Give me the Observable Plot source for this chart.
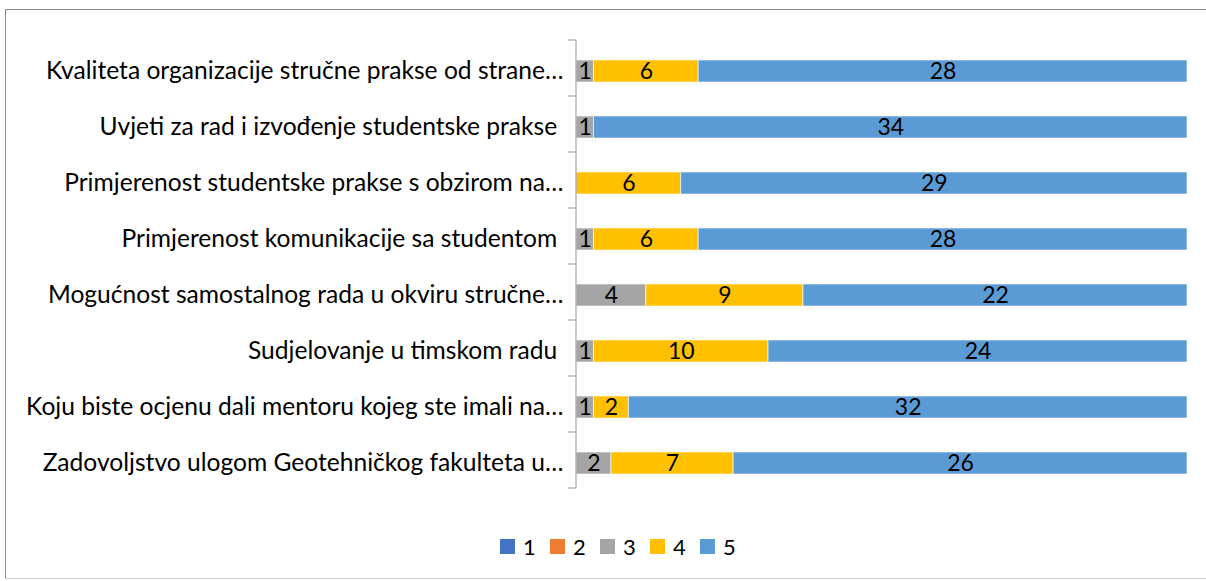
<!DOCTYPE html>
<html>
<head>
<meta charset="utf-8">
<script src="https://cdn.jsdelivr.net/npm/d3@7"></script>
<script src="https://cdn.jsdelivr.net/npm/@observablehq/plot@0.6"></script>
<style>
  html, body { margin: 0; padding: 0; background: #fff; overflow: hidden; }
  #wrap { position: relative; width: 1206px; height: 581px; overflow: hidden; font-family: Lato, "Open Sans", sans-serif; }
  #frame { position: absolute; left: 5px; top: 9px; width: 1201px; height: 570px; border-left: 1.5px solid #8c8c8c; border-top: 1.5px solid #8c8c8c; border-bottom: 1.5px solid #d0d0d0; box-sizing: border-box; }
  #chart { position: absolute; left: 0; top: 0; }
  #chart svg text { white-space: pre; }
  #legend { position: absolute; left: 500px; top: 533px; display: flex; font-size: 22px; color: #000; }
  .item { display: flex; align-items: center; width: 50px; }
  .sw { width: 15px; height: 15px; margin-right: 8px; }
</style>
</head>
<body>
<div id="wrap">
  <div id="frame"></div>
  <div id="chart"></div>
  <div id="legend"></div>
</div>
<script>
const questions = [
  "Kvaliteta organizacije stručne prakse od strane…",
  "Uvjeti za rad i izvođenje studentske prakse ",
  "Primjerenost studentske prakse s obzirom na…",
  "Primjerenost komunikacije sa studentom ",
  "Mogućnost samostalnog rada u okviru stručne…",
  "Sudjelovanje u timskom radu ",
  "Koju biste ocjenu dali mentoru kojeg ste imali na…",
  "Zadovoljstvo ulogom Geotehničkog fakulteta u…"
];
const series = ["1", "2", "3", "4", "5"];
const colors = ["#4472C4", "#ED7D31", "#A5A5A5", "#FFC000", "#5B9BD5"];
const s1 = [0, 0, 0, 0, 0, 0, 0, 0];
const s2 = [0, 0, 0, 0, 0, 0, 0, 0];
const s3 = [1, 1, 0, 1, 4, 1, 1, 2];
const s4 = [6, 0, 6, 6, 9, 10, 2, 7];
const s5 = [28, 34, 29, 28, 22, 24, 32, 26];

const seriesValues = [s1, s2, s3, s4, s5];
const data = [];
questions.forEach((q, i) => {
  series.forEach((s, j) => {
    const v = seriesValues[j][i];
    if (v > 0) data.push({q, series: s, value: v});
  });
});

const plot = Plot.plot({
  width: 1206,
  height: 520,
  marginLeft: 576,
  marginRight: 19,
  marginTop: 40,
  marginBottom: 25,
  style: {fontFamily: "Lato, 'Open Sans', sans-serif", fontSize: "24.6px", background: "transparent", color: "#000"},
  x: {domain: [0, 35], axis: null},
  y: {domain: questions, paddingInner: 0.6, paddingOuter: 0.3, label: null},
  color: {domain: series, range: colors},
  marks: [
    Plot.barX(data, Plot.stackX({x: "value", y: "q", fill: "series", stroke: "white", strokeOpacity: 0.6, strokeWidth: 1})),
    Plot.text(data, Plot.stackX({x: "value", y: "q", z: "series", text: d => String(d.value), fill: "#000", fontSize: 23})),
    Plot.axisY({tickSize: 0, tickPadding: 13, fontSize: 24.6, fill: "#000", label: null})
  ]
});
document.getElementById("chart").appendChild(plot);

// category axis line with ticks at band boundaries (Excel style)
const yScale = plot.scale("y");
const xScale = plot.scale("x");
const svgSel = d3.select(plot);
const bandStep = yScale.step;
const yStart = yScale.range[0];
const xZero = xScale.range[0];
const bounds = d3.range(questions.length + 1).map(i => yStart + i * bandStep);
const axisG = svgSel.append("g").attr("stroke", "#a6a6a6").attr("stroke-width", 1.2);
axisG.append("line").attr("x1", xZero).attr("x2", xZero).attr("y1", bounds[0]).attr("y2", bounds[bounds.length - 1]);
axisG.selectAll("line.t").data(bounds).join("line").attr("class", "t")
  .attr("x1", xZero - 8).attr("x2", xZero).attr("y1", d => d).attr("y2", d => d);

// legend
const leg = d3.select("#legend");
series.forEach((s, i) => {
  const it = leg.append("div").attr("class", "item");
  it.append("div").attr("class", "sw").style("background", colors[i]);
  it.append("span").text(s);
});
</script>
</body>
</html>
